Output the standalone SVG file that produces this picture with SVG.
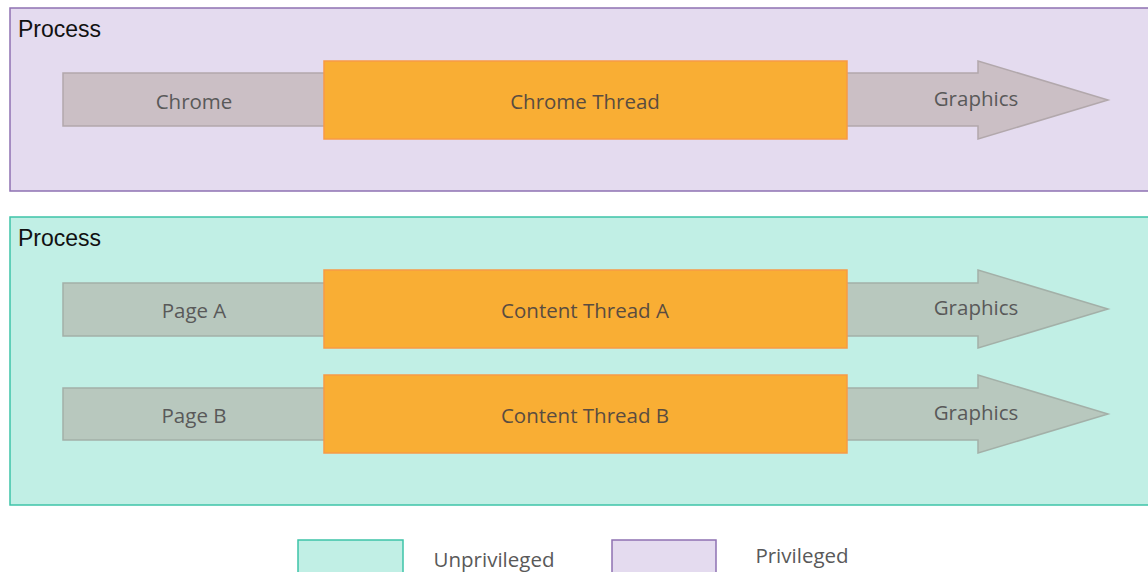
<svg xmlns="http://www.w3.org/2000/svg" width="1148" height="572" viewBox="0 0 1148 572">
  <style>
    .proc-priv { fill: #e4dbef; stroke: #8e72b3; stroke-width: 1.5; }
    .proc-unpriv { fill: #c1efe5; stroke: #3ec4a8; stroke-width: 1.5; }
    .proc-label { font-family: "Liberation Sans", Arial, sans-serif; font-size: 23px; fill: #111; }
    .arrow-priv { fill: #cbbfc5; stroke: #b2a8ac; stroke-width: 1.5; }
    .arrow-unpriv { fill: #b8c8be; stroke: #a3b0a8; stroke-width: 1.5; }
    .thread { fill: #f9ae34; stroke: #f79a45; stroke-width: 1.5; }
    .label { font-family: "Open Sans", "Noto Sans", sans-serif; font-size: 20.5px; fill: #595959; text-anchor: middle; dominant-baseline: central; }
    .thread-label { font-family: "Open Sans", "Noto Sans", sans-serif; font-size: 20.5px; fill: #5a4c40; text-anchor: middle; dominant-baseline: central; }
  </style>

  <!-- privileged (chrome) process -->
  <g id="process-chrome">
    <rect class="proc-priv" x="10" y="8" width="1150" height="183"/>
    <text class="proc-label" x="18" y="37">Process</text>
  </g>

  <!-- unprivileged (content) process -->
  <g id="process-content">
    <rect class="proc-unpriv" x="10" y="217" width="1150" height="288"/>
    <text class="proc-label" x="18" y="246">Process</text>
  </g>

  <!-- flow arrows: source page through thread to graphics -->
  <g id="connectors">
    <g id="flow-chrome">
      <polygon class="arrow-priv" points="63,73 978,73 978,61 1108,100 978,139 978,126 63,126"/>
      <text class="label" x="194" y="101">Chrome</text>
      <text class="label" x="976" y="98">Graphics</text>
    </g>
    <g id="flow-page-a">
      <polygon class="arrow-unpriv" points="63,283 978,283 978,270 1108,309 978,348 978,336 63,336"/>
      <text class="label" x="194" y="310">Page A</text>
      <text class="label" x="976" y="307">Graphics</text>
    </g>
    <g id="flow-page-b">
      <polygon class="arrow-unpriv" points="63,388 978,388 978,375 1108,414 978,453 978,440 63,440"/>
      <text class="label" x="194" y="415">Page B</text>
      <text class="label" x="976" y="412">Graphics</text>
    </g>
  </g>

  <!-- threads -->
  <g id="chrome-thread">
    <rect class="thread" x="324" y="61" width="523" height="78"/>
    <text class="thread-label" x="585" y="101">Chrome Thread</text>
  </g>
  <g id="content-thread-a">
    <rect class="thread" x="324" y="270" width="523" height="78"/>
    <text class="thread-label" x="585" y="310">Content Thread A</text>
  </g>
  <g id="content-thread-b">
    <rect class="thread" x="324" y="375" width="523" height="78"/>
    <text class="thread-label" x="585" y="415">Content Thread B</text>
  </g>

  <!-- legend -->
  <g id="legend-unprivileged">
    <rect class="proc-unpriv" x="298" y="540" width="105" height="40"/>
    <text class="label" x="494" y="559">Unprivileged</text>
  </g>
  <g id="legend-privileged">
    <rect class="proc-priv" x="612" y="540" width="104" height="40"/>
    <text class="label" x="802" y="555">Privileged</text>
  </g>
</svg>
